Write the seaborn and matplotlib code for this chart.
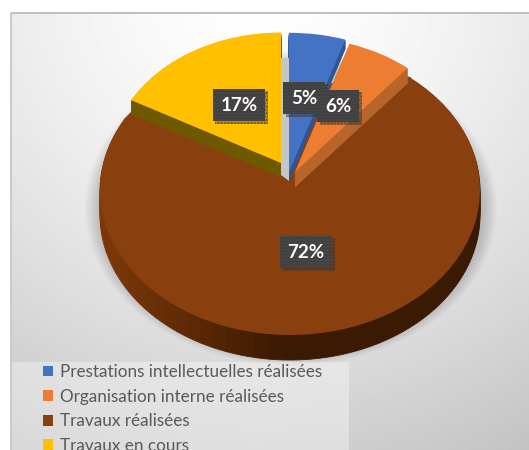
import numpy as np
import matplotlib
matplotlib.use("Agg")
import matplotlib.pyplot as plt
import matplotlib.patheffects as pe
import seaborn as sns
from matplotlib.patches import Wedge, Ellipse, Patch, Rectangle, Polygon

# Data
categories = ["Prestations intellectuelles réalisées", "Organisation interne réalisées",
              "Travaux réalisées", "Travaux en cours"]
values = [5, 6, 72, 17]

# Colours
top_colors = ["#4472C4", "#ED7D31", "#8A400E", "#FFC000"]
side_colors = ["#2F5597", "#B8652B", "#3A1A02", "#6E5800"]

# Layout, all in reference pixels (y from the top)
W, H = 529, 450
RX = 190
SY = 190 / 145  # squashes the pie into an ellipse
slice_centers = [(289, 172), (295, 172), (290, 190), (281, 163)]
slice_scale = [0.96, 0.93, 1.0, 0.9]
slice_depth = [9, 15, 25, 14]
label_pos = [(304, 98), (338, 106), (306, 252), (239, 105)]


def Y(py):
    return (H - py) * SY


sns.set_theme(style="white")
plt.rcParams["font.family"] = ["Lato", "DejaVu Sans"]

fig = plt.figure(figsize=(W / 100, H / 100), dpi=100)
ax = fig.add_axes([0, 0, 1, 1])

# Top faces come from the pie itself
wedges, _ = ax.pie(values, colors=top_colors, startangle=90, counterclock=False, radius=RX,
                   wedgeprops=dict(linewidth=0, edgecolor="none"))
ax.set_aspect("auto")
ax.set_xlim(0, W)
ax.set_ylim(0, H * SY)
ax.axis("off")

# Background gradient
xx, yy = np.meshgrid(np.linspace(10, W, 260), np.linspace(12, H, 220))
dist = np.hypot(xx - 260, yy + 20)
ax.imshow(255 - 60 * (dist / 540) ** 1.5, cmap="gray", vmin=0, vmax=255, aspect="auto",
          extent=(10, W, Y(H), Y(12)), zorder=0)
ax.add_patch(Rectangle((10, Y(14)), W - 10, 2 * SY, fc="#bfbfbf", ec="none", zorder=0.5))
ax.add_patch(Rectangle((10, 0), 2, Y(12), fc="#cbcbcb", ec="none", zorder=0.5))

# Soft shadow under the pie
for k in range(14):
    ax.add_patch(Ellipse((291, Y(208)), 2 * (RX + 16 - k * 1.3), 2 * (RX + 16 - k * 1.3),
                         fc="#444444", ec="none", alpha=0.024, zorder=0.8))

# Legend panel sits over the shadow
ax.add_patch(Rectangle((12, 0), 337, Y(362), fc="white", ec="none", alpha=0.35, zorder=0.9))

# Gray inner wall
ax.add_patch(Polygon([(281, Y(58)), (289, Y(58)), (289, Y(181)), (281, Y(175))],
                     fc="#c6c6c6", ec="none", zorder=3.5))

# Brown reaches up to the tip behind the other slices
ax.add_patch(Polygon([(290, Y(190)), (411, Y(78)), (400, Y(75)), (135, Y(109)), (124, Y(120))],
                     fc=top_colors[2], ec=top_colors[2], lw=1, zorder=2))

# Sides and final position of each slice
for i, w in enumerate(wedges):
    cx, cy = slice_centers[i]
    r = RX * slice_scale[i]
    w.set_center((cx, Y(cy)))
    w.set_radius(r)
    is_main = i == 2
    w.set_zorder(2 if is_main else 4 + i * 0.1)
    low = 1 if is_main else 3 + i * 0.1
    if is_main:
        # darker towards the front right, lighter towards the left
        edges = np.linspace(w.theta1, w.theta2, 61)
        left = np.array(matplotlib.colors.to_rgb("#7C3709"))
        dark = np.array(matplotlib.colors.to_rgb(side_colors[2]))
        for d in range(slice_depth[i], 0, -3):
            for a, b in zip(edges[:-1], edges[1:]):
                mid = np.deg2rad((a + b) / 2)
                t = np.clip((-np.cos(mid) - 0.05) / 0.9, 0, 1)
                col = dark + (left - dark) * t
                ax.add_patch(Wedge((cx, Y(cy + d)), r, a, b, fc=col, ec=col, lw=0.6, zorder=low))
    else:
        for d in range(1, slice_depth[i] + 1):
            ax.add_patch(Wedge((cx, Y(cy + d)), r, w.theta1, w.theta2, fc=side_colors[i],
                               ec=side_colors[i], lw=0.4, zorder=low))

# Data labels
for v, (lx, ly) in zip(values, label_pos):
    t = ax.text(lx, Y(ly), f"{v}%", color="white", fontsize=13.5, fontweight="bold",
                ha="center", va="center", zorder=7,
                bbox=dict(boxstyle="square,pad=0.42", fc="#404040", ec="#4c4c4c", lw=0, hatch="....."))
    t.get_bbox_patch().set_path_effects([pe.withSimplePatchShadow(offset=(2, -2), alpha=0.3)])

# Legend is cut by the bottom of the figure
handles = [Patch(fc=c, ec="none") for c in top_colors]
leg = ax.legend(handles, categories, loc="upper left", bbox_to_anchor=(43 / W, 1 - 364 / H),
                bbox_transform=ax.transAxes, frameon=False, fontsize=12.35, labelcolor="#595959",
                handlelength=0.6, handleheight=0.6, handletextpad=0.42, labelspacing=0.5,
                borderpad=0, borderaxespad=0)
leg.set_zorder(1.5)

fig.savefig("out.png", dpi=100)
